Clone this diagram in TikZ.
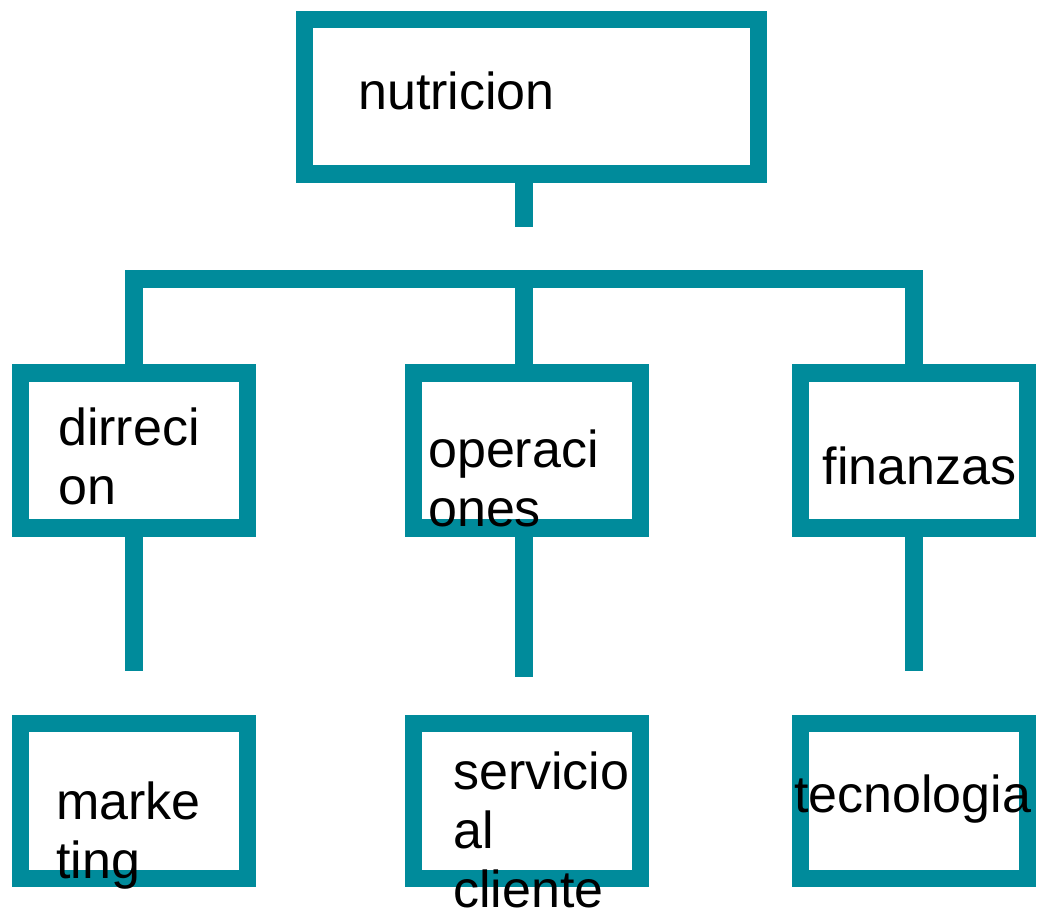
\documentclass[tikz,border=0pt]{standalone}
\usepackage{fontspec}
\setmainfont{Liberation Sans}
\definecolor{petrol}{RGB}{0,139,155}
\tikzset{
  kasten/.style={draw=petrol, line width=17.5pt, fill=white, inner sep=0pt, outer sep=0pt,
                 minimum width=227pt, minimum height=155pt},
  linie/.style={draw=petrol, line width=17.5pt},
  schrift/.style={anchor=base west, inner sep=0pt, font=\fontsize{52}{59}\selectfont}
}
\begin{document}
\begin{tikzpicture}[x=1pt,y=-1pt]
        \useasboundingbox (0,0) rectangle (1038,908);

        % zeichne Kaesten
        \node[kasten, minimum width=454pt, minimum height=154.5pt] (nutricion) at (531.4,96.75) {};
        \node[kasten] (dirreccion) at (134,450.3) {};
        \node[kasten] (operaciones) at (527,450.3) {};
        \node[kasten] (finanzas) at (914,450.3) {};
        \node[kasten] (marketing) at (134,801.2) {};
        \node[kasten] (servicio) at (527,801.2) {};
        \node[kasten] (tecnologia) at (914,801.2) {};

        % zeichne Enden der Linien
        \coordinate (oben) at (524,227);
        \coordinate (links) at (134,671);
        \coordinate (mitte) at (524,677);
        \coordinate (rechts) at (914,671);
        \coordinate (balken) at (524,279.2);

        % zeichne Verbindungen
        \draw[linie] (nutricion.south -| oben) -- (oben);
        \draw[linie] (dirreccion.north) |- (balken) -| (finanzas.north);
        \draw[linie] (balken) -- (operaciones.north -| balken);
        \draw[linie] (dirreccion.south) -- (links);
        \draw[linie] (operaciones.south -| mitte) -- (mitte);
        \draw[linie] (finanzas.south) -- (rechts);

        % zeichne Texte
        \node[schrift] (t-nutricion) at (358,109) {nutricion};
        \node[schrift] (t-dirreccion) at (58,445) {\vtop{\hbox{dirreci}\hbox{on}}};
        \node[schrift] (t-operaciones) at (428,467.3) {\vtop{\hbox{operaci}\hbox{ones}}};
        \node[schrift] (t-finanzas) at (822.7,484.3) {finanzas};
        \node[schrift] (t-marketing) at (56,819) {\vtop{\hbox{marke}\hbox{ting}}};
        \node[schrift] (t-servicio) at (453,789.3) {\vtop{\hbox{servicio}\hbox{al}\hbox{cliente}}};
        \node[schrift] (t-tecnologia) at (794,812.7) {tecnologia};
    \end{tikzpicture}
\end{document}
